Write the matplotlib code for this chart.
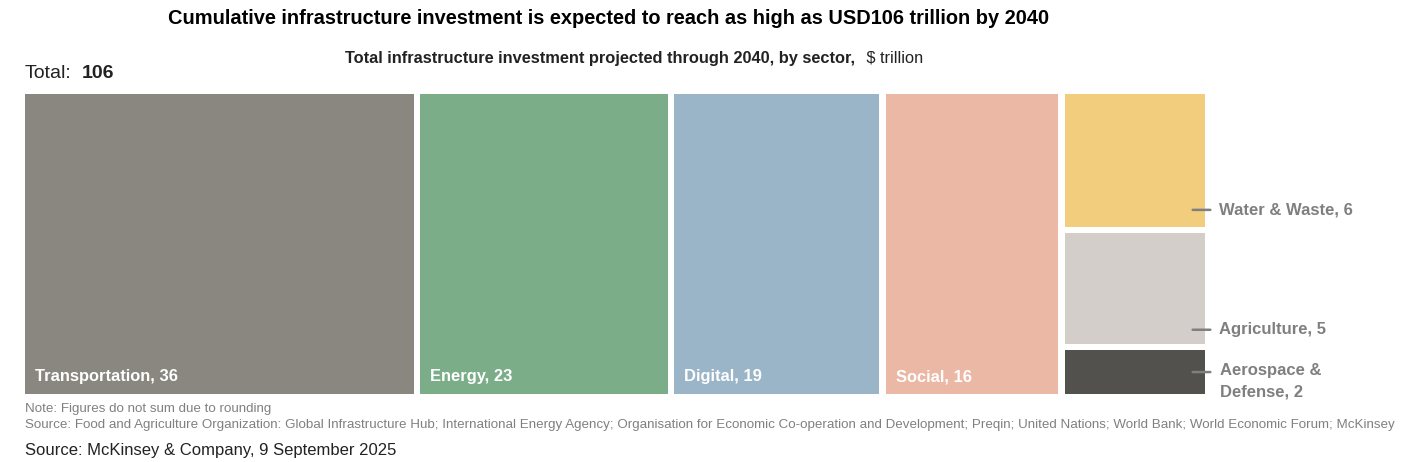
import matplotlib.pyplot as plt
from matplotlib import rcParams

rcParams['font.family'] = ['Liberation Sans', 'DejaVu Sans']

# data ($ trillion)
main_sectors = ['Transportation', 'Energy', 'Digital', 'Social']
main_values = [36, 23, 19, 16]
main_colors = ['#8a8680', '#7bad88', '#9ab5c7', '#ebb8a6']

side_sectors = ['Aerospace &\nDefense', 'Agriculture', 'Water & Waste']  # bottom to top
side_values = [2, 5, 6]
side_colors = ['#53514d', '#d3cec9', '#f2cd7e']
side_label_pos = [0.99, 0.63, 0.77]  # where the leader line sits inside each box

total = 106

W, H = 1416, 462
fig = plt.figure(figsize=(W / 100, H / 100), dpi=100)

# chart area in pixels
x0, x1, y0, y1 = 25, 1205, 94, 394
ax = fig.add_axes([x0 / W, 1 - y1 / H, (x1 - x0) / W, (y1 - y0) / H])

gap = 0.58
ygap = 0.27
side_w = sum(side_values)
ytop = side_w + ygap * (len(side_values) - 1)
xtot = sum(main_values) + side_w + gap * len(main_values)
ax.set_xlim(0, xtot)
ax.set_ylim(0, ytop)
ax.axis('off')

x = 0
for name, v, c in zip(main_sectors, main_values, main_colors):
    ax.bar(x, ytop, width=v, bottom=0, align='edge', color=c, linewidth=0)
    ax.annotate(f'{name}, {v}', xy=(x, 0), xytext=(10, 10), textcoords='offset pixels',
                color='white', fontsize=11.9, fontweight='bold', va='bottom', ha='left')
    x += v + gap

# right column stacked
y = 0
for name, v, c, lp in zip(side_sectors, side_values, side_colors, side_label_pos):
    ax.bar(x, v, width=side_w, bottom=y, align='edge', color=c, linewidth=0)
    ly = y + lp
    x_end = x + side_w
    ax.annotate('', xy=(x_end - 1.4, ly), xytext=(x_end + 0.75, ly),
                arrowprops=dict(arrowstyle='-', color='#7f7f7f', lw=1.8),
                annotation_clip=False)
    multi = '\n' in name
    ax.annotate(f'{name}, {v}', xy=(x_end + 0.75, ly), xytext=(7 if multi else 6, 9 if multi else 0),
                textcoords='offset pixels', color='#7f7f7f', fontsize=12,
                fontweight='bold', va='top' if multi else 'center',
                ha='left', linespacing=1.5, annotation_clip=False)
    y += v + ygap

# titles
fig.text(609 / W, 1 - 19 / H, 'Cumulative infrastructure investment is expected to reach as high as USD106 trillion by 2040',
         ha='center', va='center', fontsize=14.4, fontweight='bold', color='black')
fig.text(345 / W, 1 - 58 / H, 'Total infrastructure investment projected through 2040, by sector,',
         ha='left', va='center', fontsize=11.8, fontweight='bold', color='#222222')
fig.text(862 / W, 1 - 58 / H, ' $ trillion', ha='left', va='center', fontsize=11.8, color='#222222')

fig.text(25 / W, 1 - 74 / H, 'Total:', ha='left', va='center', fontsize=14, color='#222222')
fig.text(82 / W, 1 - 74 / H, str(total), ha='left', va='center', fontsize=14, fontweight='bold', color='#222222')

# notes
fig.text(25 / W, 1 - 409 / H, 'Note: Figures do not sum due to rounding',
         ha='left', va='center', fontsize=9.6, color='#808080')
fig.text(25 / W, 1 - 425 / H,
         'Source: Food and Agriculture Organization: Global Infrastructure Hub; International Energy Agency; '
         'Organisation for Economic Co-operation and Development; Preqin; United Nations; World Bank; '
         'World Economic Forum; McKinsey',
         ha='left', va='center', fontsize=9.6, color='#808080')
fig.text(25 / W, 1 - 450 / H, 'Source: McKinsey & Company, 9 September 2025',
         ha='left', va='center', fontsize=12, color='#222222')

fig.savefig('out.png', dpi=100)
